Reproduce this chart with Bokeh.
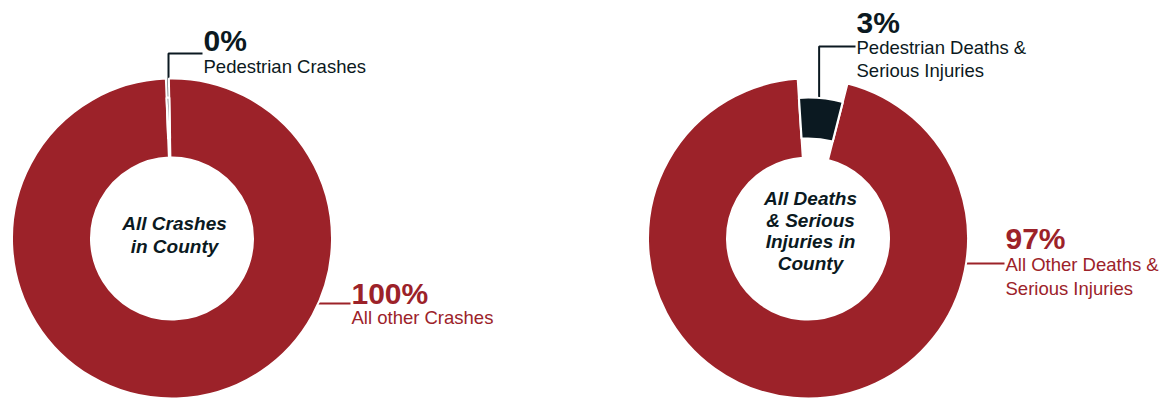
import numpy as np
from bokeh.plotting import figure
from bokeh.models import Range1d
from bokeh.core.properties import value
from bokeh.embed import file_html
from bokeh.resources import INLINE

# ---------------- data ----------------
left_categories = ["Pedestrian Crashes", "All other Crashes"]
left_pct_labels = ["0%", "100%"]
left_slice_share = [0.3, 99.7]          # visual share of the ring
left_center_lines = ["All Crashes", "in County"]

right_categories = [["Pedestrian Deaths &", "Serious Injuries"],
                    ["All Other Deaths &", "Serious Injuries"]]
right_pct_labels = ["3%", "97%"]
right_slice_share = [5.0, 95.0]         # visual share of the ring
right_center_lines = ["All Deaths", "& Serious", "Injuries in", "County"]

# ---------------- style / layout ----------------
RED = "#9C2229"
DARK = "#0B1921"
W, H = 1169, 400
FONT = "Liberation Sans"
PCT_OFF, SUB_OFF, CEN_OFF = 10.5, 7, 7

p = figure(width=W, height=H, output_backend="svg", toolbar_location=None,
           x_range=Range1d(0, W), y_range=Range1d(0, H), min_border=0)
p.axis.visible = False
p.grid.visible = False
p.outline_line_color = None
p.background_fill_color = "white"
p.border_fill_color = "white"


def Y(ypx):
    return H - ypx


def slice_angles(shares, start_cw):
    shares = np.asarray(shares, dtype=float)
    ends = start_cw + np.cumsum(shares) * 3.6
    starts = ends - shares * 3.6
    return starts, ends


def to_bokeh(cw_deg):
    return np.pi / 2 - np.radians(cw_deg)


def draw_donut(cx, cy, shares, start_cw, r_in, r_out, ped_r, pct, cats,
               dark_lbl, red_lbl, center_lines, center_x, center_y0, center_dy):
    starts, ends = slice_angles(shares, start_cw)
    mids = (starts + ends) / 2
    # --- leader lines (drawn below the ring) ---
    rm = (ped_r[0] + ped_r[1]) / 2
    lx = cx + rm * np.sin(np.radians(mids[0]))
    ly = cy - rm * np.cos(np.radians(mids[0]))
    p.line([lx, lx, dark_lbl["x"] - 1], [Y(ly), Y(dark_lbl["line_y"]), Y(dark_lbl["line_y"])],
           line_color=DARK, line_width=2)
    rr = (r_in + r_out) / 2
    dy = red_lbl["line_y"] - cy
    sx = cx + np.sqrt(max(rr ** 2 - dy ** 2, 0))
    p.line([sx, red_lbl["x"] - 1], [Y(red_lbl["line_y"]), Y(red_lbl["line_y"])],
           line_color=RED, line_width=2)
    # --- main slice ---
    p.annular_wedge(x=cx, y=Y(cy), inner_radius=r_in, outer_radius=r_out,
                    start_angle=to_bokeh(starts[1]), end_angle=to_bokeh(ends[1]),
                    direction="clock", fill_color=RED, line_color="white", line_width=2)
    # --- pedestrian slice ---
    p.annular_wedge(x=cx, y=Y(cy), inner_radius=ped_r[0], outer_radius=ped_r[1],
                    start_angle=to_bokeh(starts[0]), end_angle=to_bokeh(ends[0]),
                    direction="clock", fill_color=DARK, line_color="white", line_width=2.2)
    # --- labels ---
    p.text(x=[dark_lbl["x"]], y=[Y(dark_lbl["pct_y"] - PCT_OFF)], text=[pct[0]],
           text_font=value(FONT), text_font_style="bold", text_font_size="30px",
           text_color=DARK, text_baseline="alphabetic", text_align="left")
    for i, t in enumerate(cats[0]):
        p.text(x=[dark_lbl["x"]], y=[Y(dark_lbl["sub_y"] + i * 23 - SUB_OFF)], text=[t],
               text_font=value(FONT), text_font_size="18.5px",
               text_color=DARK, text_baseline="alphabetic", text_align="left")
    p.text(x=[red_lbl["x"]], y=[Y(red_lbl["pct_y"] - PCT_OFF)], text=[pct[1]],
           text_font=value(FONT), text_font_style="bold", text_font_size="30px",
           text_color=RED, text_baseline="alphabetic", text_align="left")
    for i, t in enumerate(cats[1]):
        p.text(x=[red_lbl["x"]], y=[Y(red_lbl["sub_y"] + i * 24 - SUB_OFF)], text=[t],
               text_font=value(FONT), text_font_size="18.5px",
               text_color=RED, text_baseline="alphabetic", text_align="left")
    for i, t in enumerate(center_lines):
        p.text(x=[center_x], y=[Y(center_y0 + i * center_dy - CEN_OFF)], text=[t],
               text_font=value(FONT), text_font_style="bold italic", text_font_size="19px",
               text_color=DARK, text_baseline="alphabetic", text_align="center")


draw_donut(171.5, 238, left_slice_share, -2.2, 81, 160, (100, 141),
           left_pct_labels, [[left_categories[0]], [left_categories[1]]],
           dict(x=203, line_y=53, pct_y=50, sub_y=73),
           dict(x=351, line_y=303, pct_y=303, sub_y=324),
           left_center_lines, 174, 230, 23)

draw_donut(807.5, 238, right_slice_share, -3.7, 81, 160, (100, 141),
           right_pct_labels, right_categories,
           dict(x=856, line_y=46, pct_y=32, sub_y=54),
           dict(x=1005, line_y=263, pct_y=248, sub_y=271),
           right_center_lines, 810, 205, 21.5)

open("out.html", "w").write(file_html(p, INLINE))
